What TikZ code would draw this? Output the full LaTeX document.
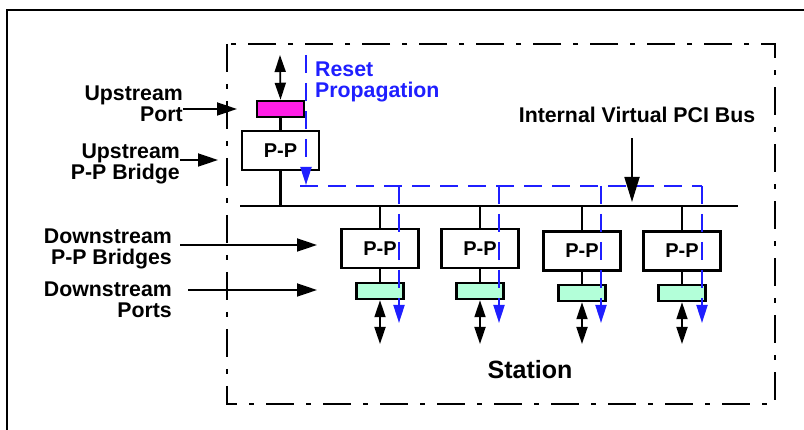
\documentclass[tikz,border=0pt]{standalone}
\usepackage{fontspec}
\setmainfont{Liberation Sans}
\usetikzlibrary{
  arrows.meta,
  positioning,
  calc
}
\definecolor{resetblue}{HTML}{1F1FFF}
\definecolor{portmagenta}{HTML}{FF1FE6}
\definecolor{portgreen}{HTML}{B3FFD9}

\begin{document}
\begin{tikzpicture}[
    x=1pt, y=-1pt,
    % Styles
    ppbox/.style={
        rectangle, draw=black, line width=2.5pt,
        fill=white, text=black,
        minimum width=77pt, minimum height=39pt,
        inner sep=0pt,
        font=\bfseries\fontsize{20}{22}\selectfont
    },
    portbox/.style={
        rectangle, draw=black, line width=2.5pt,
        fill=#1,
        minimum width=47pt, minimum height=16pt,
        inner sep=0pt
    },
    callout/.style={
        align=right, inner sep=0pt,
        font=\bfseries\fontsize{21.3}{21}\selectfont
    },
    link/.style={line width=2.5pt},
    pointer/.style={-{Triangle[length=20pt,width=13pt]}, line width=1.8pt},
    duplex/.style={{Triangle[length=17pt,width=11pt]}-{Triangle[length=17pt,width=11pt]}, line width=1.8pt},
    reset/.style={draw=resetblue, line width=2pt, dash pattern=on 18pt off 10pt},
    resetdrop/.style={reset, -{Triangle[length=18pt,width=11pt]}}
]
\useasboundingbox (0,0) rectangle (804,430);

% ── FRAMES ──
\draw[line width=2.5pt] (7,430) -- (7,10) -- (804,10);
\draw[line width=2pt, dash pattern=on 28pt off 12pt on 5pt off 12pt] (227,44) rectangle (775,404);

% ── INTERNAL BUS ──
\coordinate (busL) at (240,206);
\coordinate (busR) at (738,206);
\draw[link] (busL) -- (busR);

% ── UPSTREAM SIDE ──
\node[portbox=portmagenta] (upport) at (280.5,109) {};
\node[ppbox] (upbridge) at (280.5,150.5) {P-P};
\coordinate (uplink) at (280,55);

\draw[duplex] (uplink) -- (upport.north);
\draw[link] (upport) -- (upbridge);
\draw[link] (upbridge.south) -- (upbridge.south |- busL);

% ── DOWNSTREAM SIDE ──
\foreach \x/\by/\py [count=\i] in {380/248.5/291, 480/248.5/291, 582/251/293, 682/251/293} {
    \node[ppbox] (dn\i) at (\x,\by) {P-P};
    \node[portbox=portgreen] (dp\i) at (\x,\py) {};
    \coordinate (io\i) at (\x,344);
    \draw[link] (dn\i.north |- busL) -- (dn\i.north);
    \draw[link] (dn\i.south) -- (dp\i.north);
    \draw[duplex] (dp\i.south) -- (io\i);
}

% ── RESET PROPAGATION ──
\coordinate (rsrc) at (306,55);
\coordinate (rhit) at (306,185);
\coordinate (rleft) at (300,186);
\coordinate (rright) at (702,186);
\draw[resetdrop] (rsrc) -- (rhit);
\draw[reset] (rleft) -- (rright);
\foreach \x [count=\i] in {399, 499, 601, 702} {
    \coordinate (tap\i) at (\x,186);
    \coordinate (drop\i) at (\x,323);
    \draw[resetdrop] (tap\i) -- (drop\i);
}
\node[callout, align=left, anchor=north west, text=resetblue] (rstlbl) at (315,62) {Reset\\Propagation};

% ── LABELS ──
\node[callout, anchor=north east] (uplbl) at (183,86) {Upstream\\Port};
\coordinate (uptip) at (237,109);
\draw[pointer] (uplbl.east |- uptip) -- (uptip);

\node[callout, anchor=north east] (ubrlbl) at (180,144) {Upstream\\P-P Bridge};
\coordinate (ubrtip) at (218,160);
\draw[pointer] (ubrlbl.east |- ubrtip) -- (ubrtip);

\node[callout, anchor=north east] (dbrlbl) at (172,229) {Downstream\\P-P Bridges};
\coordinate (dbrtip) at (317,245);
\draw[pointer] ($(dbrlbl.east |- dbrtip)+(8,0)$) -- (dbrtip);

\node[callout, anchor=north east] (dplbl) at (172,282) {Downstream\\Ports};
\coordinate (dptip) at (317,290);
\draw[pointer] ($(dplbl.east |- dptip)+(16,0)$) -- (dptip);

\node[callout] (buslbl) at (637,115) {Internal Virtual PCI Bus};
\coordinate (bustip) at (632,202);
\draw[-{Triangle[length=25pt,width=15pt]}, line width=1.8pt] ($(bustip |- buslbl.south)+(0,15)$) -- (bustip);

\node[font=\bfseries\fontsize{25}{30}\selectfont] (station) at (530,370) {Station};

\end{tikzpicture}
\end{document}
